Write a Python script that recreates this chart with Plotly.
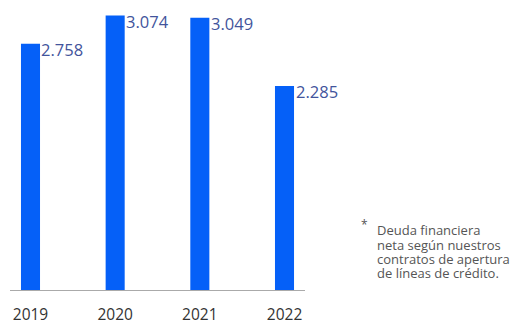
import plotly.graph_objects as go

years = ["2019", "2020", "2021", "2022"]
values = [2.758, 3.074, 3.049, 2.285]
value_labels = ["2.758", "3.074", "3.049", "2.285"]
footnote_lines = ["Deuda financiera", "neta según nuestros", "contratos de apertura", "de líneas de crédito."]

BAR = "#0560f8"
LABEL = "#42549c"
FONT = "Open Sans, sans-serif"

# page has an 8px body margin: figure is drawn at (8, 8) in the window
W, H = 523, 317

fig = go.Figure()
fig.add_trace(go.Bar(x=years, y=values, marker_color=BAR, marker_line_width=0,
                     width=0.225, hoverinfo="skip"))

for i, (v, lab) in enumerate(zip(values, value_labels)):
    fig.add_annotation(x=i, y=v, xref="x", yref="y", text=lab, showarrow=False,
                       xanchor="left", yanchor="middle", xshift=9, yshift=-6,
                       font=dict(family=FONT, size=16.5, color=LABEL))

fig.add_annotation(xref="paper", yref="paper", x=1.2, y=0.232, text="*",
                   showarrow=False, xanchor="center", yanchor="middle",
                   font=dict(family=FONT, size=12, color="#555555"))
line_y = [0.211, 0.160, 0.109, 0.059]
for ly, txt in zip(line_y, footnote_lines):
    fig.add_annotation(xref="paper", yref="paper", x=1.237, y=ly, text=txt,
                       showarrow=False, xanchor="left", yanchor="middle", align="left",
                       font=dict(family=FONT, size=13, color="#555555"))

fig.update_layout(
    width=W, height=H,
    margin=dict(l=2, r=226, t=0, b=28),
    plot_bgcolor="white", paper_bgcolor="white",
    showlegend=False,
    xaxis=dict(type="category", range=[-0.242, 3.242], showline=True,
               linecolor="#aaaaaa", linewidth=1, showgrid=False,
               ticks="outside", ticklen=10, tickcolor="rgba(0,0,0,0)",
               tickfont=dict(family=FONT, size=15.5, color="#333333")),
    yaxis=dict(range=[0, 3.158], visible=False, showgrid=False, zeroline=False),
)

fig.write_html("out.html")
